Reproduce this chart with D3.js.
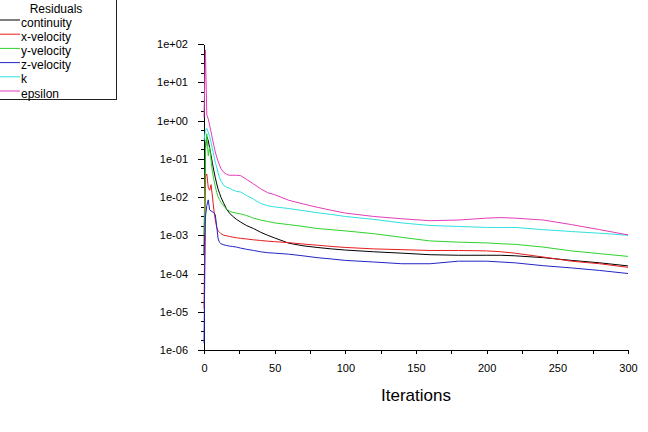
<!DOCTYPE html>
<html>
<head>
<meta charset="utf-8">
<script src="https://cdn.jsdelivr.net/npm/d3@7"></script>
<style>
    body { margin: 0; background: #fff; }
    svg { display: block; font-family: "Liberation Sans", Arial, sans-serif; }
    .axis path, .axis line { stroke: #000; shape-rendering: crispEdges; }
    .axis text { fill: #000; font-size: 11px; font-family: "Liberation Sans", Arial, sans-serif; }
</style>
</head>
<body>
<svg width="648" height="432"></svg>
<script>
var iterations = [0, 1, 2, 3, 4, 5, 6, 7, 8, 9, 10, 11, 12, 14, 16, 18, 20, 23, 26, 30,
    35, 40, 45, 50, 60, 70, 80, 90, 100, 120, 140, 160, 180, 200, 210, 220, 240, 260, 280, 300];

var continuity = [3e-4, 0.2, 0.38, 0.3, 0.19, 0.12, 0.075, 0.048, 0.032, 0.022,
    0.016, 0.0125, 0.0098, 0.0068, 0.0048, 0.0038, 0.0032, 0.0026, 0.0022, 0.0018,
    0.0015, 0.0012, 0.001, 0.00085, 0.00062, 0.00053, 0.00048, 0.00044, 0.00041, 0.00037,
    0.00034, 0.00031, 0.0003, 0.0003, 0.0003, 0.00029, 0.00026, 0.00022, 0.00019, 0.000158];

var xVelocity = [1.2e-5, 0.035, 0.04, 0.018, 0.015, 0.021, 0.01, 0.0045, 0.0025, 0.0016,
    0.0013, 0.0012, 0.0011, 0.001, 0.00097, 0.00093, 0.0009, 0.00086, 0.00083, 0.0008,
    0.00076, 0.00073, 0.0007, 0.00068, 0.00064, 0.00059, 0.00055, 0.00051, 0.00048, 0.00044,
    0.00042, 0.0004, 0.0004, 0.00039, 0.00037, 0.00034, 0.00027, 0.00021, 0.00018, 0.000145];

var yVelocity = [0.001, 0.15, 0.45, 0.12, 0.2, 0.09, 0.045, 0.028, 0.019, 0.013,
    0.01, 0.0085, 0.0072, 0.0058, 0.0048, 0.0043, 0.004, 0.0038, 0.0036, 0.0033,
    0.0028, 0.0025, 0.0023, 0.0021, 0.0019, 0.0017, 0.0015, 0.0014, 0.0013, 0.0011,
    0.00088, 0.00071, 0.00066, 0.00063, 0.0006, 0.00058, 0.00049, 0.00039, 0.00033, 0.00028];

var zVelocity = [1.5e-6, 0.003, 0.006, 0.0084, 0.0046, 0.0043, 0.0041, 0.0039, 0.0034, 0.0017,
    0.0008, 0.00065, 0.0006, 0.00056, 0.00054, 0.00052, 0.00051, 0.00049, 0.00046, 0.00043,
    0.0004, 0.00037, 0.00035, 0.00034, 0.00032, 0.00029, 0.00026, 0.00024, 0.00022, 0.0002,
    0.00018, 0.00018, 0.00021, 0.00021, 0.0002, 0.00019, 0.00016, 0.00014, 0.00012, 0.0001];

var kResidual = [0.3, 0.55, 0.62, 0.5, 0.38, 0.27, 0.18, 0.12, 0.08, 0.06,
    0.042, 0.032, 0.026, 0.02, 0.018, 0.017, 0.0155, 0.014, 0.0135, 0.011,
    0.0088, 0.0068, 0.0059, 0.0055, 0.005, 0.0044, 0.0039, 0.0035, 0.0031, 0.0026,
    0.0021, 0.0018, 0.0017, 0.0016, 0.0016, 0.0016, 0.0014, 0.00125, 0.00113, 0.001];

var epsilon = [1.2, 70, 1.4, 1.1, 0.75, 0.5, 0.33, 0.22, 0.15, 0.11,
    0.085, 0.068, 0.055, 0.044, 0.039, 0.037, 0.037, 0.037, 0.036, 0.029,
    0.022, 0.0165, 0.013, 0.0115, 0.0082, 0.0066, 0.0054, 0.0045, 0.0038, 0.0031,
    0.0027, 0.0024, 0.0025, 0.0028, 0.0029, 0.0028, 0.0025, 0.0019, 0.0014, 0.00102];

var seriesNames = ["continuity", "x-velocity", "y-velocity", "z-velocity", "k", "epsilon"];
var seriesValues = [continuity, xVelocity, yVelocity, zVelocity, kResidual, epsilon];
var seriesColors = ["#000000", "#e81c1c", "#2ed22e", "#2424c8", "#30e0e0", "#e43cb8"];

var xTicks = [0, 50, 100, 150, 200, 250, 300];
var xMinorTicks = [0, 25, 50, 75, 100, 125, 150, 175, 200, 225, 250, 275, 300];
var yTicks = [1e-6, 1e-5, 1e-4, 1e-3, 1e-2, 1e-1, 1e0, 1e1, 1e2];
var yTickLabels = ["1e-06", "1e-05", "1e-04", "1e-03", "1e-02", "1e-01", "1e+00", "1e+01", "1e+02"];

var svg = d3.select('svg');
var svgWidth = +svg.attr('width');
var svgHeight = +svg.attr('height');

var plot = {l: 204, r: 628, t: 44, b: 350};

var xScale = d3.scaleLinear().domain([0, 300]).range([plot.l, plot.r]);
var yScale = d3.scaleLog().domain([1e-6, 1e2]).range([plot.b, plot.t]);

// minor y ticks at quarter decades
var yMinorTicks = [];
yTicks.slice(0, -1).forEach(function(d) {
    [0.25, 0.5, 0.75].forEach(function(f) { yMinorTicks.push(d * Math.pow(10, f)); });
});

// x axis
svg.append('g')
    .attr('class', 'x axis')
    .attr('transform', 'translate(0,' + plot.b + ')')
    .call(d3.axisBottom(xScale).tickValues(xMinorTicks).tickSize(4).tickSizeOuter(0).tickFormat(''));

svg.append('g')
    .attr('class', 'x axis labels')
    .attr('transform', 'translate(0,' + plot.b + ')')
    .call(d3.axisBottom(xScale).tickValues(xTicks).tickSize(0).tickPadding(14).tickFormat(d3.format('d')))
    .call(function(g) { g.select('.domain').remove(); });

// y axis
svg.append('g')
    .attr('class', 'y axis')
    .attr('transform', 'translate(' + plot.l + ',0)')
    .call(d3.axisLeft(yScale).tickValues(yMinorTicks).tickSize(3).tickSizeOuter(0).tickFormat(''));

svg.append('g')
    .attr('class', 'y axis')
    .attr('transform', 'translate(' + plot.l + ',0)')
    .call(d3.axisLeft(yScale).tickValues(yTicks).tickSize(6).tickSizeOuter(0).tickPadding(10)
        .tickFormat(function(d, i) { return yTickLabels[i]; }))
    .call(function(g) { g.select('.domain').remove(); });

svg.append('text')
    .attr('x', (plot.l + plot.r) / 2)
    .attr('y', 401)
    .attr('text-anchor', 'middle')
    .style('font-size', '17px')
    .text('Iterations');

// residual lines
var line = d3.line()
    .x(function(d, i) { return xScale(iterations[i]); })
    .y(function(d) { return yScale(d); });

svg.append('g')
    .selectAll('path')
    .data(seriesValues)
    .enter()
    .append('path')
    .attr('fill', 'none')
    .attr('stroke', function(d, i) { return seriesColors[i]; })
    .attr('stroke-width', 1)
    .attr('d', line);

// legend
var legendG = svg.append('g').attr('class', 'legend');

legendG.append('rect')
    .attr('x', -1).attr('y', -1)
    .attr('width', 117.5).attr('height', 100.5)
    .attr('fill', '#fff')
    .attr('stroke', '#222')
    .attr('stroke-width', 1);

legendG.append('text')
    .attr('x', 56)
    .attr('y', 12.5)
    .attr('text-anchor', 'middle')
    .style('font-size', '12px')
    .text('Residuals');

var entry = legendG.selectAll('.entry')
    .data(seriesNames)
    .enter()
    .append('g')
    .attr('class', 'entry')
    .attr('transform', function(d, i) { return 'translate(0,' + (26.5 + i * 14.2) + ')'; });

entry.append('line')
    .attr('x1', 0).attr('x2', 20)
    .attr('y1', -6.5).attr('y2', -6.5)
    .attr('stroke', function(d, i) { return seriesColors[i]; });

entry.append('text')
    .attr('x', 21)
    .style('font-size', '12px')
    .text(function(d) { return d; });
</script>
</body>
</html>
